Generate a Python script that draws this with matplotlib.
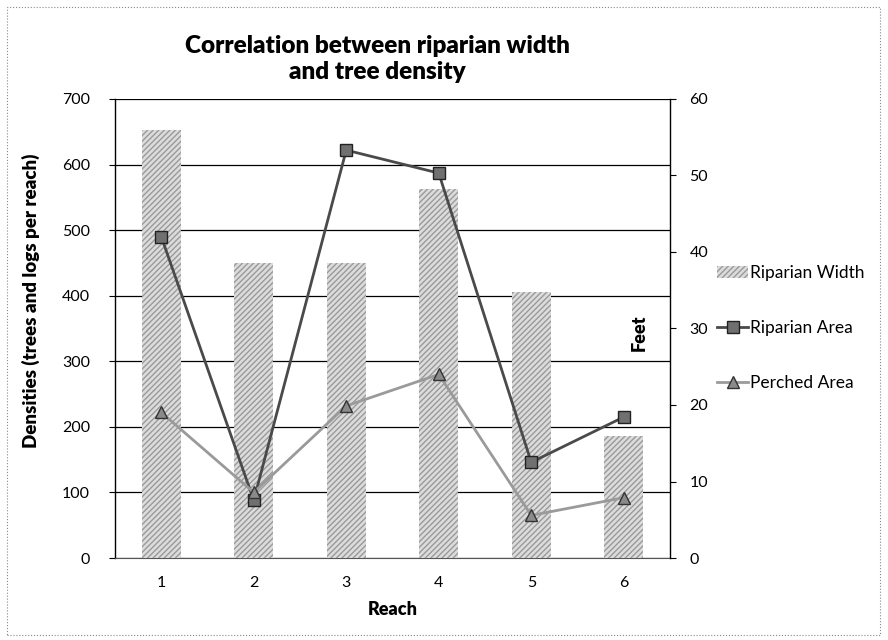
# Riparian width vs tree density per reach (Excel-style combo chart)

import matplotlib.pyplot as plt
from matplotlib.patches import Rectangle, Patch
from matplotlib.lines import Line2D

plt.rcParams['font.family'] = ['Lato', 'DejaVu Sans']

# Data
reaches = [1, 2, 3, 4, 5, 6]
riparian_width = [56, 38.5, 38.5, 48.2, 34.8, 16]      # feet (right axis)
riparian_area = [490, 88, 622, 587, 146, 215]           # densities (left axis)
perched_area = [222, 100, 232, 280, 65, 92]             # densities (left axis)

fig = plt.figure(figsize=(8.88, 6.4), dpi=100)
rect = [115 / 888, 1 - 558 / 640, 555 / 888, 459 / 640]

# bottom axes: left scale + gridlines
ax = fig.add_axes(rect)
ax.set_xlim(0.5, 6.5)
ax.set_ylim(0, 700)
ax.set_yticks(range(0, 701, 100))
ax.set_xticks(reaches)
ax.yaxis.grid(True, color='black', linewidth=0.9)
ax.set_axisbelow(True)
for s in ['top', 'right']:
    ax.spines[s].set_visible(False)
ax.spines['left'].set_linewidth(1.0)
ax.spines['bottom'].set_color('#555555')
ax.tick_params(axis='y', length=4, labelsize=11.5, pad=14)
ax.tick_params(axis='x', length=0, labelsize=11.5, pad=13)
ax.set_xlabel('Reach', fontsize=13, fontweight='heavy', labelpad=8)
ax.set_ylabel('Densities (trees and logs per reach)', fontsize=13.5, fontweight='heavy')
ax.yaxis.set_label_coords(-0.135, 0.56)

# bars on right-hand axis (feet)
ax2 = ax.twinx()
ax2.patch.set_visible(False)
ax2.bar(reaches, riparian_width, width=0.42, color='#dcdcdc',
        edgecolor='#9a9a9a', hatch='//////', linewidth=0)
ax2.set_ylim(0, 60)
ax2.set_yticks(range(0, 61, 10))
ax2.tick_params(axis='y', length=4, labelsize=11.5, pad=10)
for s in ['top', 'left', 'bottom']:
    ax2.spines[s].set_visible(False)
ax2.spines['right'].set_linewidth(1.0)
ax2.set_ylabel('Feet', fontsize=13, fontweight='heavy')
ax2.yaxis.set_label_coords(0.93, 0.49)

# lines on top, sharing the left scale
ax3 = ax.twinx()
ax3.set_ylim(ax.get_ylim())
ax3.axis('off')
ax3.plot(reaches, riparian_area, color='#4a4a4a', linewidth=2.0, marker='s',
         markersize=8, markerfacecolor='#707070', markeredgecolor='#222222')
ax3.plot(reaches, perched_area, color='#9a9a9a', linewidth=2.0, marker='^',
         markersize=9, markerfacecolor='#8a8a8a', markeredgecolor='#333333')

# legend
handles = [
    Patch(facecolor='#dcdcdc', edgecolor='#9a9a9a', hatch='//////', linewidth=0),
    Line2D([], [], color='#4a4a4a', linewidth=2.0, marker='s', markersize=8,
           markerfacecolor='#707070', markeredgecolor='#222222'),
    Line2D([], [], color='#9a9a9a', linewidth=2.0, marker='^', markersize=9,
           markerfacecolor='#8a8a8a', markeredgecolor='#333333'),
]
fig.legend(handles, ['Riparian Width', 'Riparian Area', 'Perched Area'],
           loc='upper left', bbox_to_anchor=(710 / 888, 1 - 258 / 640),
           frameon=False, fontsize=12.5, labelspacing=2.25, handlelength=1.8,
           handletextpad=0.1, borderaxespad=0)

# title
fig.text(377 / 888, 1 - 59 / 640, 'Correlation between riparian width\nand tree density',
         ha='center', va='center', fontsize=17.5, fontweight='heavy', linespacing=1.25)

# dotted border round the chart
fig.patches.append(Rectangle((7 / 888, 5 / 640), 873 / 888, 628 / 640,
                             transform=fig.transFigure, fill=False,
                             edgecolor='#888888', linewidth=0.8, linestyle=':'))

fig.savefig('out.png', dpi=100)
